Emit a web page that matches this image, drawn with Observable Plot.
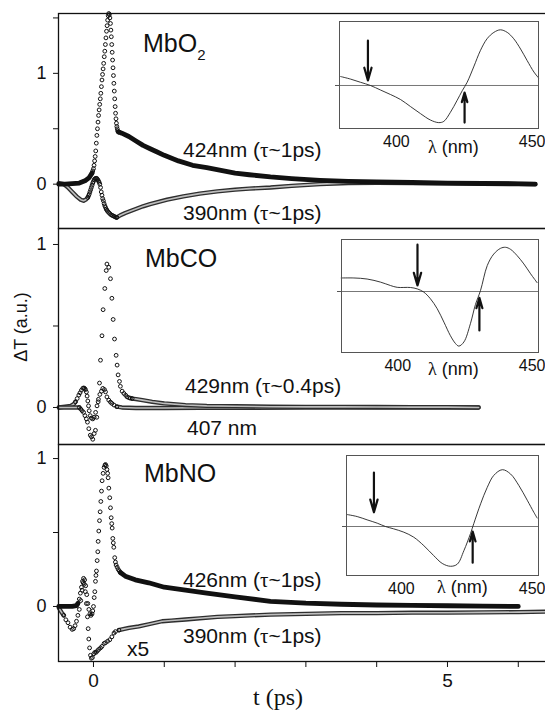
<!DOCTYPE html>
<html><head><meta charset="utf-8">
<script src="https://cdn.jsdelivr.net/npm/d3@7"></script>
<script src="https://cdn.jsdelivr.net/npm/@observablehq/plot@0.6"></script>
<style>
html,body{margin:0;padding:0;background:#fff;overflow:hidden;}
#fig{position:relative;width:545px;height:711px;overflow:hidden;font-family:"Liberation Sans",Arial,sans-serif;}
#fig svg{position:absolute;}
</style></head><body><div id="fig"></div>
<script>
// ---------------- DATA (t in ps, ΔT in a.u.) ----------------
// MbO2 panel
const o2_424T = [-0.49,-0.4,-0.3,-0.2,-0.12,-0.06,-0.02,-0.01,0,0.008,0.016,0.024,0.032,0.04,0.048,0.056,0.064,0.072,0.08,0.088,0.096,0.104,0.112,0.12,0.128,0.136,0.144,0.152,0.16,0.168,0.176,0.184,0.192,0.2,0.208,0.216,0.224,0.232,0.24,0.246,0.252,0.258,0.264,0.27,0.276,0.282,0.288,0.294,0.3,0.306,0.312,0.318,0.324,0.33,0.336,0.342,0.35,0.36,0.4,0.5,0.6,0.7,0.8,0.9,1,1.2,1.4,1.6,1.8,2,2.2,2.5,2.8,3.2,3.6,4,4.5,5,5.5,6,6.24];
const o2_424V = [0,0,0.005,0.01,0.03,0.06,0.10,0.12,0.14,0.17,0.21,0.25,0.30,0.37,0.44,0.50,0.56,0.62,0.67,0.72,0.77,0.82,0.88,0.94,0.99,1.04,1.09,1.15,1.20,1.26,1.32,1.38,1.43,1.48,1.52,1.54,1.53,1.50,1.45,1.39,1.33,1.26,1.19,1.12,1.05,0.98,0.91,0.84,0.77,0.70,0.64,0.59,0.55,0.52,0.50,0.48,0.47,0.47,0.46,0.43,0.39,0.35,0.32,0.29,0.26,0.21,0.17,0.15,0.125,0.10,0.085,0.065,0.05,0.035,0.025,0.02,0.015,0.01,0.006,0.003,0];
const o2_390T = [-0.49,-0.42,-0.36,-0.3,-0.24,-0.18,-0.14,-0.11,-0.08,-0.07,-0.06,-0.05,-0.04,-0.03,-0.02,-0.01,0,0.01,0.02,0.03,0.04,0.05,0.06,0.07,0.08,0.09,0.1,0.11,0.12,0.13,0.14,0.15,0.16,0.17,0.18,0.19,0.2,0.215,0.23,0.245,0.26,0.275,0.29,0.305,0.32,0.33,0.38,0.45,0.57,0.7,0.8,1.04,1.27,1.5,1.75,2,2.2,2.5,2.8,3.2,3.6,4,5,6,6.24];
const o2_390V = [0.01,0,-0.03,-0.07,-0.11,-0.14,-0.15,-0.14,-0.12,-0.105,-0.09,-0.07,-0.05,-0.03,-0.01,0.01,0.025,0.04,0.048,0.052,0.053,0.05,0.04,0.03,0.017,0,-0.03,-0.07,-0.1,-0.13,-0.15,-0.175,-0.195,-0.21,-0.225,-0.235,-0.245,-0.255,-0.265,-0.275,-0.28,-0.285,-0.29,-0.295,-0.3,-0.3,-0.28,-0.26,-0.23,-0.2,-0.18,-0.14,-0.11,-0.085,-0.065,-0.05,-0.04,-0.03,-0.015,0,0.01,0.012,0.008,0.003,0];
// MbCO panel
const co_429T = [-0.49,-0.4,-0.3,-0.2,-0.18,-0.16,-0.14,-0.12,-0.1,-0.085,-0.066,-0.045,-0.028,-0.01,0.01,0.028,0.047,0.066,0.085,0.099,0.12,0.136,0.16,0.18,0.19,0.216,0.24,0.26,0.278,0.297,0.32,0.334,0.348,0.367,0.38,0.405,0.43,0.455,0.475,0.5,0.52,0.546,0.6,0.69,0.83,1,1.3,1.6,2,2.5,3,3.5,4,4.5,5,5.44];
const co_429V = [0,0,0,0,-0.01,-0.02,-0.03,-0.05,-0.07,-0.09,-0.13,-0.17,-0.18,-0.195,-0.16,-0.14,-0.06,0.035,0.15,0.29,0.44,0.6,0.73,0.84,0.88,0.86,0.79,0.67,0.54,0.42,0.32,0.26,0.2,0.16,0.13,0.1,0.086,0.075,0.065,0.06,0.057,0.055,0.052,0.045,0.035,0.025,0.015,0.01,0.008,0.005,0.004,0.004,0.003,0.002,0.002,0];
const co_407T = [-0.49,-0.4,-0.32,-0.28,-0.254,-0.23,-0.207,-0.19,-0.17,-0.15,-0.137,-0.125,-0.113,-0.1,-0.09,-0.08,-0.07,-0.06,-0.045,-0.03,-0.01,0.01,0.03,0.05,0.07,0.09,0.113,0.132,0.155,0.17,0.19,0.216,0.24,0.26,0.29,0.33,0.4,0.6,1,1.5,2,3,4,5,5.44];
const co_407V = [0,0.005,0.01,0.02,0.035,0.055,0.076,0.09,0.106,0.118,0.12,0.117,0.11,0.095,0.07,0.04,0.01,-0.02,-0.05,-0.065,-0.07,-0.06,-0.03,0.01,0.05,0.08,0.1,0.117,0.11,0.096,0.065,0.045,0.033,0.025,0.015,0.005,0,-0.003,-0.003,-0.002,-0.002,-0.001,0,0,0];
// MbNO panel
const no_426T = [-0.49,-0.4,-0.3,-0.24,-0.22,-0.2,-0.185,-0.17,-0.155,-0.14,-0.125,-0.11,-0.095,-0.08,-0.065,-0.05,-0.035,-0.02,-0.01,0,0.01,0.019,0.028,0.035,0.042,0.052,0.061,0.066,0.075,0.085,0.094,0.104,0.113,0.122,0.136,0.15,0.162,0.17,0.18,0.19,0.2,0.207,0.217,0.23,0.24,0.25,0.258,0.264,0.273,0.28,0.287,0.3,0.31,0.32,0.335,0.35,0.365,0.38,0.45,0.59,0.78,1,1.3,1.6,2,2.5,3,3.5,4,4.5,5,5.5,6];
const no_426V = [0,0,0,0.005,0.02,0.05,0.09,0.13,0.17,0.19,0.18,0.14,0.08,0.02,-0.02,-0.05,-0.06,-0.05,-0.03,0,0.06,0.1,0.17,0.21,0.24,0.31,0.37,0.44,0.51,0.58,0.64,0.71,0.78,0.85,0.9,0.94,0.955,0.96,0.95,0.926,0.9,0.87,0.8,0.735,0.667,0.6,0.56,0.53,0.46,0.43,0.4,0.33,0.3,0.28,0.265,0.25,0.24,0.23,0.205,0.18,0.16,0.13,0.11,0.09,0.065,0.035,0.022,0.015,0.01,0.007,0.005,0.003,0];
const no_390T = [-0.49,-0.45,-0.42,-0.39,-0.36,-0.33,-0.3,-0.28,-0.26,-0.24,-0.22,-0.2,-0.18,-0.16,-0.145,-0.13,-0.115,-0.1,-0.085,-0.075,-0.066,-0.055,-0.042,-0.03,-0.015,0.005,0.02,0.038,0.055,0.075,0.1,0.12,0.15,0.17,0.2,0.23,0.26,0.29,0.31,0.36,0.405,0.5,0.64,0.78,0.97,1.1,1.3,1.5,1.75,2,2.5,3,3.5,4,4.5,5,5.5,6,6.45];
const no_390V = [-0.01,-0.04,-0.06,-0.09,-0.11,-0.14,-0.155,-0.15,-0.13,-0.1,-0.06,-0.02,0.04,0.11,0.16,0.15,0.1,0.02,-0.07,-0.15,-0.22,-0.28,-0.33,-0.35,-0.345,-0.32,-0.31,-0.31,-0.3,-0.29,-0.28,-0.27,-0.25,-0.245,-0.235,-0.225,-0.205,-0.18,-0.17,-0.16,-0.155,-0.145,-0.135,-0.12,-0.1,-0.095,-0.088,-0.08,-0.07,-0.065,-0.055,-0.05,-0.045,-0.045,-0.042,-0.042,-0.04,-0.038,-0.035];
// Inset spectra (λ in nm, difference spectrum in a.u.)
const in1L = [380.4,383.9,387.4,390.9,394.4,397.9,401.5,405,408.5,412,414.9,416.7,419,421.4,423.2,424.9,427.2,429.6,431.9,434.3,436.6,439,441.3,443.7,446,448.4,450];
const in1V = [0.14,0.10,0.05,0.0,-0.07,-0.14,-0.22,-0.33,-0.44,-0.54,-0.58,-0.56,-0.42,-0.23,-0.08,0.05,0.29,0.55,0.73,0.83,0.87,0.83,0.73,0.57,0.39,0.21,0.12];
const in2L = [379.9,384.4,389.1,393.9,397.4,399.8,404.5,406.9,409.2,411.6,414,416.4,418.7,420.5,421.7,423.5,425.8,427.6,429.4,431.8,434.1,436.5,438.3,440.1,442.4,444.8,447.2,449.5];
const in2V = [0.26,0.26,0.24,0.18,0.115,0.08,0.077,0.05,-0.01,-0.14,-0.33,-0.59,-0.85,-1.0,-1.05,-0.97,-0.62,-0.25,0.02,0.5,0.72,0.83,0.85,0.81,0.69,0.53,0.34,0.17];
const in3L = [380,383.9,387.5,391.2,394.2,397.2,400.9,404.5,408.2,411.8,414.9,417.9,420.4,422.8,425.2,426.4,428.9,431.3,433.7,436.8,439.8,442.8,445.9,448.3,449.5];
const in3V = [0.17,0.14,0.094,0.047,0.0,-0.033,-0.08,-0.15,-0.27,-0.41,-0.52,-0.56,-0.53,-0.34,-0.10,0.04,0.32,0.55,0.72,0.80,0.74,0.58,0.37,0.20,0.12];
// Probe wavelengths marked by arrows [down, up]
const probes1 = [390, 424];
const probes2 = [407, 429];
const probes3 = [390, 426];
const xTicks = [0,1,2,3,4,5,6];
const insetTicks = [400, 450];

// ---------------- LAYOUT ----------------
const fig = document.getElementById("fig");
const X_DOMAIN = [-0.494, 6.455];
const PW = 552, ML = 58, MR = 2;
const FONT = '"Liberation Sans", Arial, sans-serif';
const baseStyle = {fontFamily: FONT, background: "transparent", maxWidth: "none", overflow: "visible", color: "#111"};

function rowsOf(T, V) { return T.map((t, i) => ({t, v: V[i]})); }

function drawPanel(cfg) {
  const marks = [];
  cfg.series.forEach(s => {
    const rows = rowsOf(s.t, s.v);
    const [a, b] = s.win;
    const pre = rows.filter(r => r.t <= a + 1e-9);
    const post = rows.filter(r => r.t >= b - 1e-9);
    const mid = rows.filter(r => r.t >= a - 1e-9 && r.t <= b + 1e-9);
    [pre, post].forEach(seg => {
      if (seg.length < 2) return;
      if (s.band === "solid") {
        marks.push(Plot.line(seg, {x: "t", y: "v", stroke: "#111", strokeWidth: 4.8, strokeLinecap: "round", strokeLinejoin: "round"}));
      } else {
        marks.push(Plot.line(seg, {x: "t", y: "v", stroke: "#2e2e2e", strokeWidth: 4.3, strokeLinecap: "round", strokeLinejoin: "round"}));
        marks.push(Plot.line(seg, {x: "t", y: "v", stroke: "#bdbdbd", strokeWidth: 1.6, strokeLinecap: "round", strokeLinejoin: "round"}));
      }
    });
    marks.push(Plot.dot(mid, {x: "t", y: "v", r: 1.9, stroke: "#111", strokeWidth: 1, fill: "none"}));
  });
  marks.push(Plot.frame({stroke: "#111", strokeWidth: 1.3}));
  marks.push(Plot.axisY({ticks: cfg.yTicks, tickFormat: d => (d === 0 || d === 1) ? String(d) : "", tickSize: 5, tickPadding: 7, fontSize: 18, label: null}));
  if (cfg.xAxis) marks.push(Plot.axisX({ticks: xTicks, tickFormat: d => d % 5 === 0 ? String(d) : "", tickSize: 6, tickPadding: 6, fontSize: 19, label: null}));
  const svg = Plot.plot({
    width: PW, height: cfg.height,
    marginLeft: ML, marginRight: MR, marginTop: cfg.mt, marginBottom: cfg.mb,
    x: {domain: X_DOMAIN, axis: null},
    y: {domain: cfg.yDomain, axis: null},
    style: baseStyle,
    marks
  });
  svg.style.left = "0px"; svg.style.top = cfg.top + "px";
  fig.appendChild(svg);
}

function drawInset(cfg) {
  const rows = rowsOf(cfg.L, cfg.V);
  const arrows = [
    {l: cfg.probes[0], y1: cfg.down[0], y2: cfg.down[1]},
    {l: cfg.probes[1], y1: cfg.up[0], y2: cfg.up[1]}
  ];
  const svg = Plot.plot({
    width: cfg.fw + 8 + 12, height: cfg.fh + 2 + 30,
    marginLeft: 8, marginRight: 12, marginTop: 2, marginBottom: 30,
    x: {domain: [380, 450], axis: null},
    y: {domain: cfg.yDomain, axis: null},
    style: baseStyle,
    marks: [
      Plot.ruleY([0], {stroke: "#777", strokeWidth: 1}),
      Plot.line(rows, {x: "t", y: "v", stroke: "#222", strokeWidth: 0.9, curve: "catmull-rom"}),
      Plot.arrow(arrows, {x1: "l", x2: "l", y1: "y1", y2: "y2", stroke: "#111", strokeWidth: 2.2, headLength: 9, headAngle: 32}),
      Plot.frame({stroke: "#555", strokeWidth: 1}),
      Plot.axisX({ticks: insetTicks.slice(0, 1), tickSize: 0, tickPadding: 7, fontSize: 16, label: null}),
      Plot.axisX({ticks: insetTicks.slice(1), tickSize: 0, tickPadding: 7, fontSize: 16, label: null, textAnchor: "end", dx: 7}),
      Plot.axisY({ticks: [0], tickSize: 4, tickFormat: () => "", label: null, stroke: "#555"})
    ]
  });
  svg.style.left = (cfg.fx - 8) + "px"; svg.style.top = (cfg.fy - 2) + "px";
  fig.appendChild(svg);
}

drawPanel({top: 0, mt: 13, mb: 1, height: 229, yDomain: [-0.40, 1.54], yTicks: [0, 0.5, 1, 1.5],
  series: [
    {t: o2_390T, v: o2_390V, win: [-0.08, 0.33], band: "outline"},
    {t: o2_424T, v: o2_424V, win: [-0.02, 0.36], band: "solid"}
  ]});
drawPanel({top: 220, mt: 8, mb: 1, height: 225, yDomain: [-0.227, 1.098], yTicks: [0, 0.5, 1],
  series: [
    {t: co_407T, v: co_407V, win: [-0.254, 0.33], band: "outline"},
    {t: co_429T, v: co_429V, win: [-0.2, 0.546], band: "outline"}
  ]});
drawPanel({top: 436, mt: 8, mb: 50, height: 275, yDomain: [-0.372, 1.095], yTicks: [0, 0.5, 1], xAxis: true,
  series: [
    {t: no_390T, v: no_390V, win: [-0.42, 0.36], band: "outline"},
    {t: no_426T, v: no_426V, win: [-0.22, 0.38], band: "solid"}
  ]});

drawInset({fx: 339, fy: 21, fw: 199, fh: 107, L: in1L, V: in1V, yDomain: [-0.672, 1.0], probes: probes1, down: [0.70, 0.08], up: [-0.58, -0.11]});
drawInset({fx: 341, fy: 239, fw: 197, fh: 113, L: in2L, V: in2V, yDomain: [-1.173, 1.0], probes: probes2, down: [0.90, 0.115], up: [-0.75, -0.12]});
drawInset({fx: 346, fy: 455, fw: 192, fh: 120, L: in3L, V: in3V, yDomain: [-0.69, 1.0], probes: probes3, down: [0.76, 0.2], up: [-0.51, -0.07]});

// ---------------- ANNOTATION TEXT ----------------
const ov = d3.create("svg").attr("width", 545).attr("height", 711)
  .style("left", "0px").style("top", "0px").style("pointer-events", "none")
  .attr("font-family", FONT).attr("fill", "#111");
const SERIF = '"Liberation Serif", "DejaVu Serif", serif';

function label(x, y, size, parts) {
  const t = ov.append("text").attr("x", x).attr("y", y).attr("font-size", size);
  parts.forEach(p => {
    const s = t.append("tspan").text(p.s);
    if (p.serif) s.attr("font-family", SERIF);
    if (p.size) s.attr("font-size", p.size);
    if (p.dy) s.attr("dy", p.dy);
  });
  return t;
}
const tauLabel = (x, y, nm, tau) => label(x, y, 21, [{s: nm + " ("}, {s: "τ", serif: true}, {s: "~" + tau + ")"}]);

label(143, 52, 25, [{s: "MbO"}, {s: "2", size: 15, dy: 8}]);
tauLabel(183, 157, "424nm", "1ps");
tauLabel(183, 220, "390nm", "1ps");
label(145, 267, 25, [{s: "MbCO"}]);
tauLabel(185, 393, "429nm", "0.4ps");
label(187, 435, 21, [{s: "407 nm"}]);
label(144, 482, 25, [{s: "MbNO"}]);
tauLabel(183, 587, "426nm", "1ps");
tauLabel(183, 643, "390nm", "1ps");
label(127, 656, 21, [{s: "x5"}]);
label(253, 705, 24, [{s: "t (ps)", serif: true}]);
ov.append("text").attr("transform", "translate(27,327) rotate(-90)").attr("text-anchor", "middle")
  .attr("font-size", 18).text("ΔT (a.u.)");
label(428, 153, 18, [{s: "λ", serif: true}, {s: " (nm)"}]);
label(428, 375, 18, [{s: "λ", serif: true}, {s: " (nm)"}]);
label(437, 593, 18, [{s: "λ", serif: true}, {s: " (nm)"}]);

fig.appendChild(ov.node());
</script>
</body></html>
